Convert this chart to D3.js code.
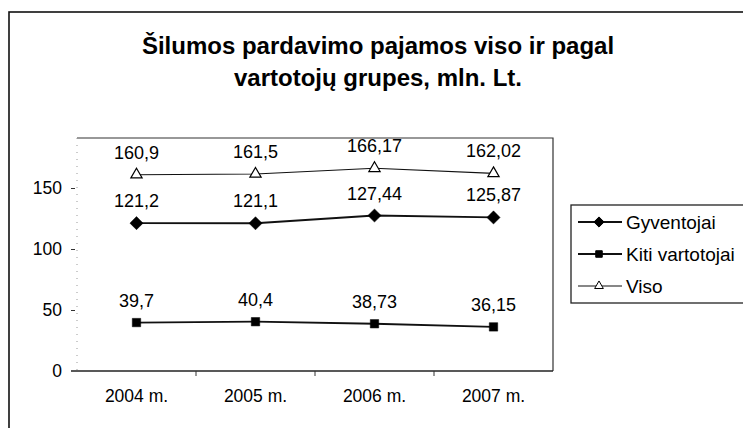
<!DOCTYPE html>
<html>
<head>
<meta charset="utf-8">
<script src="https://cdn.jsdelivr.net/npm/d3@7"></script>
<style>
  body { margin: 0; background: #fff; }
  svg { display: block; font-family: "Liberation Sans", Arial, sans-serif; }
</style>
</head>
<body>
<svg id="chart" width="743" height="428"></svg>
<script>
var years = ['2004 m.', '2005 m.', '2006 m.', '2007 m.'];
var gyventojai = [121.2, 121.1, 127.44, 125.87];
var kiti = [39.7, 40.4, 38.73, 36.15];
var viso = [160.9, 161.5, 166.17, 162.02];
var gyventojaiLabels = ['121,2', '121,1', '127,44', '125,87'];
var kitiLabels = ['39,7', '40,4', '38,73', '36,15'];
var visoLabels = ['160,9', '161,5', '166,17', '162,02'];
var yTicks = [0, 50, 100, 150];

var svg = d3.select('#chart');

// outer frame, cut off on right and bottom like the scan
svg.append('rect')
  .attr('x', 9).attr('y', 12)
  .attr('width', 800).attr('height', 500)
  .style('fill', 'none').style('stroke', '#111').style('stroke-width', 1.6);

svg.append('text')
  .attr('x', 378).attr('y', 54)
  .attr('text-anchor', 'middle')
  .style('font-size', '24px').style('font-weight', 'bold')
  .text('Šilumos pardavimo pajamos viso ir pagal');
svg.append('text')
  .attr('x', 378).attr('y', 86)
  .attr('text-anchor', 'middle')
  .style('font-size', '24px').style('font-weight', 'bold')
  .text('vartotojų grupes, mln. Lt.');

var x = d3.scaleBand().domain(years).range([77, 553]);
var y = d3.scaleLinear().domain([0, 150]).range([371, 188]);
var plotTop = 138;

// plot area border (top + right)
svg.append('path')
  .attr('d', 'M' + x.range()[0] + ',' + plotTop + 'H' + x.range()[1] + 'V' + y(0))
  .style('fill', 'none').style('stroke', '#333').style('stroke-width', 1.2);

// y axis (faint dotted line, short detached ticks)
var yAxis = d3.axisLeft(y).tickValues(yTicks).tickSize(6).tickPadding(9);
var gy = svg.append('g')
  .attr('transform', 'translate(' + x.range()[0] + ',0)')
  .call(yAxis);
gy.select('.domain')
  .attr('d', 'M0,' + plotTop + 'V' + y(0))
  .style('stroke', '#999').style('stroke-dasharray', '1,6');
gy.selectAll('.tick line').attr('x1', -2).style('stroke', '#333');
gy.selectAll('.tick text').style('font-size', '17.5px').style('fill', '#000');
gy.selectAll('.tick').filter(function(d) { return d === 0; }).select('line').remove();

// x axis
var xAxis = d3.axisBottom(x).tickSize(0).tickPadding(19);
var gx = svg.append('g')
  .attr('transform', 'translate(0,' + y(0) + ')')
  .call(xAxis);
gx.select('.domain').attr('d', 'M' + (x.range()[0] - 6) + ',0H' + x.range()[1])
  .style('stroke', '#222').style('stroke-width', 1.4);
gx.selectAll('.tick text').style('font-size', '17.5px').style('fill', '#000');
gx.selectAll('.boundary')
  .data(years.slice(1))
  .enter().append('line')
  .attr('class', 'boundary')
  .attr('x1', function(d) { return x(d); })
  .attr('x2', function(d) { return x(d); })
  .attr('y1', 0).attr('y2', 5)
  .style('stroke', '#333');

var cx = function(i) { return x(years[i]) + x.bandwidth() / 2; };
var line = function(vals) {
  return d3.line()
    .x(function(d, i) { return cx(i); })
    .y(function(d) { return y(d); })(vals);
};

var series = [
  { name: 'Gyventojai', values: gyventojai, labels: gyventojaiLabels, symbol: d3.symbolDiamond2, size: 110, fill: '#000', width: 1.8 },
  { name: 'Kiti vartotojai', values: kiti, labels: kitiLabels, symbol: d3.symbolSquare2, size: 90, fill: '#000', width: 1.8 },
  { name: 'Viso', values: viso, labels: visoLabels, symbol: d3.symbolTriangle, size: 55, fill: '#fff', width: 1.1 }
];

series.forEach(function(s) {
  svg.append('path')
    .attr('d', line(s.values))
    .style('fill', 'none').style('stroke', '#111').style('stroke-width', s.width);

  svg.selectAll(null)
    .data(s.values)
    .enter().append('path')
    .attr('transform', function(d, i) { return 'translate(' + cx(i) + ',' + y(d) + ')'; })
    .attr('d', d3.symbol().type(s.symbol).size(s.size))
    .style('fill', s.fill).style('stroke', '#000').style('stroke-width', s.fill === '#fff' ? 1.2 : 0.5);

  svg.selectAll(null)
    .data(s.values)
    .enter().append('text')
    .attr('x', function(d, i) { return cx(i); })
    .attr('y', function(d) { return y(d) - 16; })
    .attr('text-anchor', 'middle')
    .style('font-size', '18px')
    .text(function(d, i) { return s.labels[i]; });
});

// legend
svg.append('rect')
  .attr('x', 571).attr('y', 205)
  .attr('width', 200).attr('height', 98)
  .style('fill', '#fff').style('stroke', '#222').style('stroke-width', 1.3);

var legend = svg.selectAll('g.legend')
  .data(series)
  .enter().append('g')
  .attr('class', 'legend')
  .attr('transform', function(d, i) { return 'translate(578,' + (222 + i * 32) + ')'; });

legend.append('line')
  .attr('x1', 0).attr('x2', 44)
  .style('stroke', '#111').style('stroke-width', function(d) { return d.width; });
legend.append('path')
  .attr('transform', 'translate(21,0)')
  .attr('d', function(d) { return d3.symbol().type(d.symbol).size(d.size * 0.6)(); })
  .style('fill', function(d) { return d.fill; })
  .style('stroke', '#000').style('stroke-width', 1);
legend.append('text')
  .attr('x', 48).attr('dy', '0.35em')
  .style('font-size', '19px')
  .text(function(d) { return d.name; });
</script>
</body>
</html>
